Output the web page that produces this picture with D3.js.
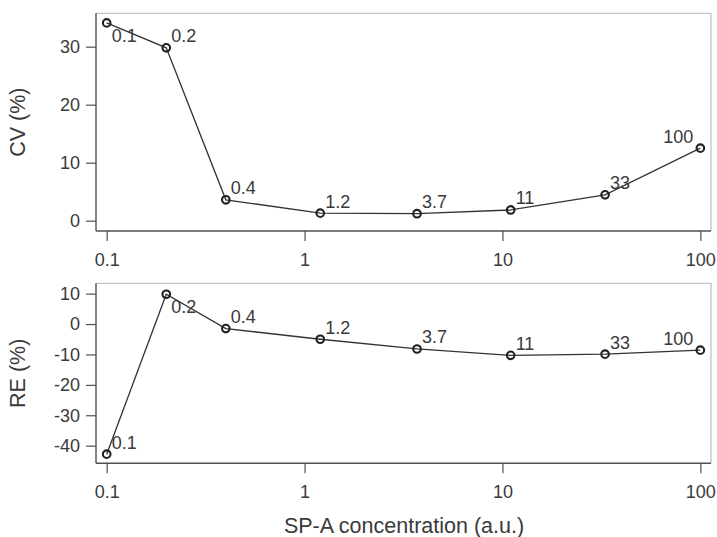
<!DOCTYPE html>
<html>
<head>
<meta charset="utf-8">
<script src="https://cdn.jsdelivr.net/npm/d3@7"></script>
<style>
  html, body { margin: 0; padding: 0; background: #fff; }
  svg text { font-family: "Liberation Sans", Arial, Helvetica, sans-serif; fill: #3a3a3a; }
</style>
</head>
<body>
<svg id="chart" width="717" height="537"></svg>
<script>
// SP-A concentrations (a.u.) and the point labels shown next to each marker
const concentrations = [0.1, 0.2, 0.4, 1.2, 3.7, 11, 33, 100];
const pointLabels = ["0.1", "0.2", "0.4", "1.2", "3.7", "11", "33", "100"];

// Coefficient of variation (%) and relative error (%)
const cvValues = [34.1, 29.8, 3.6, 1.3, 1.2, 1.85, 4.45, 12.5];
const reValues = [-42.8, 9.8, -1.5, -5.0, -8.2, -10.3, -9.9, -8.6];

// Axis ticks
const xTicks = [0.1, 1, 10, 100];
const xTickLabels = ["0.1", "1", "10", "100"];
const cvTicks = [0, 10, 20, 30];
const reTicks = [10, 0, -10, -20, -30, -40];

// Clock position of each point label relative to its marker
const cvLabelClock = [4, 1, 1, 1, 1, 1, 1, 11];
const reLabelClock = [1, 4, 1, 1, 1, 1, 1, 11];

const svg = d3.select("#chart");
const left = 96, right = 711;

const x = d3.scaleLog().domain([0.0883, 113.2]).range([left, right]);

const panels = [
  { title: "CV (%)", values: cvValues, ticks: cvTicks, clock: cvLabelClock,
    top: 13.3, bottom: 231, domain: [-1.78, 35.76] },
  { title: "RE (%)", values: reValues, ticks: reTicks, clock: reLabelClock,
    top: 283.3, bottom: 463.3, domain: [-45.8, 13.4] }
];

panels.forEach(p => {
  const y = d3.scaleLinear().domain(p.domain).range([p.bottom, p.top]);
  const g = svg.append("g");

  // plot frame: light top/right edges
  g.append("path")
    .attr("d", `M${left},${p.top}H${right}V${p.bottom}`)
    .attr("fill", "none").attr("stroke", "#c4c4c4").attr("stroke-width", 1.3);

  // y axis (plain hyphen for negative numbers)
  const ya = g.append("g").attr("transform", `translate(${left},0)`)
    .call(d3.axisLeft(y).tickValues(p.ticks).tickFormat(d => String(d))
      .tickSize(10).tickPadding(6).tickSizeOuter(0));
  ya.select(".domain").attr("d", `M0,${p.top}V${p.bottom}`);
  // x axis
  const xa = g.append("g").attr("transform", `translate(0,${p.bottom})`)
    .call(d3.axisBottom(x).tickValues(xTicks)
      .tickFormat((d, i) => xTickLabels[i]).tickSize(10).tickPadding(12).tickSizeOuter(0));
  xa.select(".domain").attr("d", `M${left},0H${right}`);

  [ya, xa].forEach(a => {
    a.select(".domain").attr("stroke", "#505050").attr("stroke-width", 1.4);
    a.selectAll(".tick line").attr("stroke", "#505050").attr("stroke-width", 1.2);
    a.selectAll(".tick text").attr("font-size", 18).attr("fill", "#3a3a3a")
      .attr("font-family", "Liberation Sans, Arial, sans-serif");
  });

  // y axis title
  g.append("text")
    .attr("transform", `translate(25,${(p.top + p.bottom) / 2}) rotate(-90)`)
    .attr("text-anchor", "middle").attr("font-size", 21.5)
    .text(p.title);

  const pts = concentrations.map((c, i) => ({ c, v: p.values[i], label: pointLabels[i], clock: p.clock[i] }));

  // connecting line
  g.append("path").datum(pts)
    .attr("d", d3.line().x(d => x(d.c)).y(d => y(d.v)))
    .attr("fill", "none").attr("stroke", "#333").attr("stroke-width", 1.3);

  // hollow circle markers
  g.selectAll("circle.m").data(pts).join("circle")
    .attr("class", "m")
    .attr("cx", d => x(d.c)).attr("cy", d => y(d.v)).attr("r", 3.8)
    .attr("fill", "none").attr("stroke", "#222").attr("stroke-width", 2.1);

  // point labels
  g.selectAll("text.pl").data(pts).join("text")
    .attr("class", "pl")
    .attr("font-size", 18)
    .attr("text-anchor", d => d.clock === 11 ? "end" : "start")
    .attr("x", d => x(d.c) + (d.clock === 11 ? -7 : 5))
    .attr("y", d => y(d.v) + (d.clock === 4 ? 19 : -5.5))
    .text(d => d.label);
});

// x axis title
svg.append("text")
  .attr("x", 404).attr("y", 533)
  .attr("text-anchor", "middle").attr("font-size", 21.5)
  .text("SP-A concentration (a.u.)");
</script>
</body>
</html>
